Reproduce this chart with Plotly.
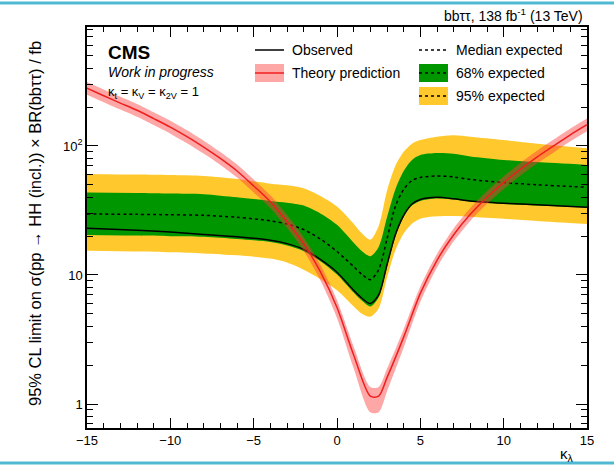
import plotly.graph_objects as go

# ---------------- data ----------------
kl = [-15, -12, -10, -8, -6, -4, -3, -2, -1, 0, 1, 1.5, 2, 2.5, 3, 3.5, 4, 4.5, 5, 6, 7, 8, 10, 12, 15]
observed = [23.0, 22.2, 21.5, 20.6, 19.8, 18.6, 17.5, 15.8, 13.2, 10.5, 7.6, 6.6, 6.0, 7.0, 12.0, 20.5, 29.0, 35.5, 38.5, 40.0, 39.0, 37.5, 36.0, 35.0, 33.5]
median = [29.7, 29.5, 29.3, 29.0, 28.0, 26.3, 24.8, 22.5, 19.0, 15.2, 11.6, 10.1, 9.2, 11.0, 19.0, 34.0, 46.0, 54.0, 57.0, 58.5, 57.5, 55.0, 52.0, 50.0, 47.9]
exp68_lo = [20.4, 20.2, 20.0, 19.8, 19.0, 18.0, 16.9, 15.3, 12.8, 10.1, 7.3, 6.3, 5.7, 6.7, 11.5, 19.8, 28.2, 34.5, 37.5, 39.2, 38.5, 37.0, 35.5, 34.5, 33.2]
exp68_hi = [43.5, 43.2, 42.8, 42.3, 40.0, 37.5, 36.3, 34.5, 30.0, 24.5, 17.8, 15.3, 14.0, 16.5, 28.0, 46.0, 64.0, 78.0, 85.0, 88.0, 87.0, 83.0, 78.0, 75.0, 71.3]
exp95_lo = [15.4, 15.2, 15.0, 14.7, 14.2, 13.4, 12.5, 11.0, 9.3, 7.6, 5.7, 5.0, 4.75, 5.5, 9.5, 15.5, 21.0, 25.0, 27.3, 28.5, 28.7, 28.3, 27.3, 26.2, 24.8]
exp95_hi = [60.7, 60.0, 59.5, 58.5, 55.5, 51.0, 49.5, 47.0, 41.0, 34.0, 25.0, 21.0, 18.8, 24.0, 45.0, 70.0, 90.0, 104.0, 111.0, 118.0, 121.0, 118.0, 111.0, 104.0, 96.0]

kl_theory = [-15, -14, -13, -12, -11, -10, -9, -8, -7, -6, -5, -4, -3, -2, -1, 0, 1, 2, 2.5, 3, 4, 5, 6, 7, 8, 9, 10, 11, 12, 13, 14, 15]
theory = [280, 245, 215, 189, 163, 140, 118, 98, 80, 64, 49, 37, 26, 17.5, 10.6, 5.6, 2.4, 1.15, 1.15, 1.6, 3.3, 7.2, 13.0, 20.5, 29.5, 40.0, 52.0, 66.0, 82.0, 100.0, 122.0, 146.0]
theory_unc_up = [0.12, 0.12, 0.12, 0.12, 0.12, 0.12, 0.12, 0.12, 0.12, 0.12, 0.12, 0.12, 0.12, 0.12, 0.13, 0.14, 0.16, 0.18, 0.18, 0.17, 0.15, 0.13, 0.12, 0.12, 0.12, 0.12, 0.12, 0.12, 0.12, 0.12, 0.12, 0.12]
theory_unc_dn = [0.11, 0.11, 0.11, 0.11, 0.11, 0.11, 0.11, 0.11, 0.11, 0.11, 0.11, 0.11, 0.11, 0.12, 0.14, 0.17, 0.21, 0.25, 0.25, 0.22, 0.17, 0.14, 0.12, 0.11, 0.11, 0.11, 0.11, 0.11, 0.11, 0.11, 0.11, 0.11]

x_ticks = [-15, -10, -5, 0, 5, 10, 15]
x_ticktext = ["\u221215", "\u221210", "\u22125", "0", "5", "10", "15"]
y_ticks = [1, 10, 100]
y_ticktext = ["1", "10", "10<sup>2</sup>"]

# ---------------- style ----------------
YELLOW = "rgb(255,201,45)"
GREEN = "rgb(0,150,0)"
THEO_BAND = "rgba(250,60,60,0.45)"
FONT = "Liberation Sans, Arial, sans-serif"

W, H = 614, 469
L, R, T, B = 87, 587, 27, 428


def px(x):
    return (x - L) / (R - L)


def py(y):
    return (B - y) / (B - T)


theory_hi = [v * (1 + u) for v, u in zip(theory, theory_unc_up)]
theory_lo = [v * (1 - u) for v, u in zip(theory, theory_unc_dn)]

fig = go.Figure()
sp = dict(shape="spline", smoothing=0.8)

fig.add_trace(go.Scatter(x=kl, y=exp95_hi, mode="lines", line=dict(width=0, color=YELLOW, **sp), showlegend=False, hoverinfo="skip"))
fig.add_trace(go.Scatter(x=kl, y=exp95_lo, mode="lines", line=dict(width=0, color=YELLOW, **sp), fill="tonexty", fillcolor=YELLOW, showlegend=False, hoverinfo="skip"))
fig.add_trace(go.Scatter(x=kl, y=exp68_hi, mode="lines", line=dict(width=0, color=GREEN, **sp), showlegend=False, hoverinfo="skip"))
fig.add_trace(go.Scatter(x=kl, y=exp68_lo, mode="lines", line=dict(width=0, color=GREEN, **sp), fill="tonexty", fillcolor=GREEN, showlegend=False, hoverinfo="skip"))
fig.add_trace(go.Scatter(x=kl, y=median, mode="lines", line=dict(width=1.5, color="black", dash="3px,3px", **sp), showlegend=False))
fig.add_trace(go.Scatter(x=kl, y=observed, mode="lines", line=dict(width=1.5, color="black", **sp), showlegend=False))
fig.add_trace(go.Scatter(x=kl_theory, y=theory_hi, mode="lines", line=dict(width=0, color=THEO_BAND, **sp), showlegend=False, hoverinfo="skip"))
fig.add_trace(go.Scatter(x=kl_theory, y=theory_lo, mode="lines", line=dict(width=0, color=THEO_BAND, **sp), fill="tonexty", fillcolor=THEO_BAND, showlegend=False, hoverinfo="skip"))
fig.add_trace(go.Scatter(x=kl_theory, y=theory, mode="lines", line=dict(width=1.5, color="rgb(240,30,30)", **sp), showlegend=False))
# invisible trace to activate the mirrored (top/right) tick axes
fig.add_trace(go.Scatter(x=[0], y=[10], xaxis="x2", yaxis="y2", mode="markers", marker=dict(opacity=0), showlegend=False, hoverinfo="skip"))

ann = []
shapes = []


def text(x, y, s, size=14, xanchor="left", **kw):
    ann.append(dict(x=px(x), y=py(y), xref="paper", yref="paper", text=s, showarrow=False,
                    xanchor=xanchor, yanchor="middle", font=dict(family=FONT, size=size, color="black"), **kw))


# header / labels
text(585, 15, "bb\u03c4\u03c4, 138 fb<sup>-1</sup> (13 TeV)", size=14, xanchor="right")
text(106, 53, "<b>CMS</b>", size=19)
text(106, 72, "<i>Work in progress</i>", size=14)
text(106, 92, "\u03ba<sub>t</sub> = \u03ba<sub>V</sub> = \u03ba<sub>2V</sub> = 1", size=13)
text(567, 454, "\u03ba<sub>\u03bb</sub>", size=15, xanchor="center")
ann.append(dict(x=px(35), y=py(224), xref="paper", yref="paper", showarrow=False, textangle=-90,
                text="95% CL limit on \u03c3(pp \u2192 HH (incl.)) \u00d7 BR(bb\u03c4\u03c4) / fb",
                xanchor="center", yanchor="middle", font=dict(family=FONT, size=16.5, color="black")))


# legend (manual)
def line(x0, y0, x1, y1, color, width=1.5, dash=None):
    d = dict(type="line", xref="paper", yref="paper", x0=px(x0), y0=py(y0), x1=px(x1), y1=py(y1),
             line=dict(color=color, width=width))
    if dash:
        d["line"]["dash"] = dash
    shapes.append(d)


def box(x0, y0, x1, y1, color):
    shapes.append(dict(type="rect", xref="paper", yref="paper", x0=px(x0), y0=py(y0), x1=px(x1), y1=py(y1),
                       line=dict(width=0), fillcolor=color))


line(255, 50, 284, 50, "black")
text(290, 50, "Observed")
box(255, 64, 284, 82, THEO_BAND)
line(255, 73, 284, 73, "rgb(240,30,30)")
text(290, 73, "Theory prediction")

line(419, 50, 448, 50, "black", dash="3px,3px")
text(454, 50, "Median expected")
box(419, 64, 448, 82, GREEN)
line(419, 73, 448, 73, "black", dash="3px,3px")
text(454, 73, "68% expected")
box(419, 87, 448, 105, YELLOW)
line(419, 96, 448, 96, "black", dash="3px,3px")
text(454, 96, "95% expected")

# framing lines of the screenshot
shapes.append(dict(type="line", xref="paper", yref="paper", x0=px(0), x1=px(614), y0=py(3), y1=py(3),
                   line=dict(color="rgb(80,185,210)", width=3)))
shapes.append(dict(type="line", xref="paper", yref="paper", x0=px(0), x1=px(614), y0=py(463), y1=py(463),
                   line=dict(color="rgb(80,185,210)", width=3)))

y_minor = [v * m for v in (0.1, 1, 10, 100) for m in range(2, 10)]

xcommon = dict(range=[-15, 15], tickmode="array", tickvals=x_ticks,
               ticks="inside", ticklen=10, tickwidth=1, tickcolor="black",
               showgrid=False, zeroline=False,
               minor=dict(tickmode="linear", tick0=-15, dtick=1, ticks="inside", ticklen=5, tickcolor="black", showgrid=False))
ycommon = dict(type="log", range=[-0.186, 2.922], tickmode="array", tickvals=y_ticks,
               ticks="inside", ticklen=11, tickwidth=1, tickcolor="black",
               showgrid=False, zeroline=False,
               minor=dict(tickmode="array", tickvals=y_minor, ticks="inside", ticklen=6, tickcolor="black", showgrid=False))

fig.update_layout(
    width=W, height=H,
    margin=dict(l=L, r=W - R, t=T, b=H - B),
    paper_bgcolor="white", plot_bgcolor="white",
    showlegend=False,
    annotations=ann, shapes=shapes,
    xaxis=dict(**xcommon, ticktext=x_ticktext, showline=True, linecolor="black", linewidth=1.5, mirror=True,
               tickfont=dict(family=FONT, size=13, color="black")),
    yaxis=dict(**ycommon, ticktext=y_ticktext, showline=True, linecolor="black", linewidth=1.5, mirror=True,
               tickfont=dict(family=FONT, size=13, color="black")),
    xaxis2=dict(**xcommon, overlaying="x", side="top", showticklabels=False, showline=False),
    yaxis2=dict(**ycommon, overlaying="y", side="right", showticklabels=False, showline=False),
)

fig.write_html("out.html", config={"displayModeBar": False},
               post_script="document.body.style.margin='0px';document.body.style.overflow='hidden';")
